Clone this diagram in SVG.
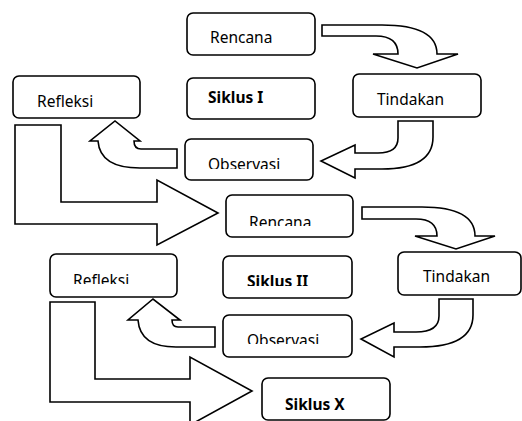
<svg xmlns="http://www.w3.org/2000/svg" width="522" height="421" viewBox="0 0 522 421">
<style>
.box{fill:#fff;stroke:#000;stroke-width:1.6}
.arr{fill:#fff;stroke:#000;stroke-width:1.6;stroke-linejoin:miter}
text{font-family:"Noto Sans","Open Sans","Liberation Sans",sans-serif;font-size:15.5px;fill:#000}
.b{font-weight:bold}
</style>
<defs>
<clipPath id="c1"><rect x="185" y="139" width="128" height="30"/></clipPath>
<clipPath id="c2"><rect x="226" y="195" width="127" height="31"/></clipPath>
<clipPath id="c3"><rect x="223" y="256" width="129" height="30"/></clipPath>
<clipPath id="c4"><rect x="50" y="254" width="127" height="30"/></clipPath>
<clipPath id="c5"><rect x="223" y="315" width="129" height="29"/></clipPath>
<clipPath id="c6"><rect x="262" y="378" width="128" height="32"/></clipPath>
</defs>
<g id="connectors">
<path class="arr" d="M322,25 L382,25 Q437,25 437,54 L458,54 L417,68 L373,54 L398,54 Q398,36 376,36 L322,36 Z"/>
<path class="arr" d="M398,121 L433,121 L433,137 Q433,169 382,169 L355,169 L355,178 L321,161 L355,145 L355,153 L378,153 Q398,153 398,138 Z"/>
<path class="arr" d="M177,149 L141,149 Q134,149 134,141 L140,141 L115,121 L90,141 L98,141 Q100,168 140,168 L177,168 Z"/>
<path class="arr" d="M15,125 L61,125 L61,202 L157,202 L157,180 L218,213 L157,245 L157,224 L15,224 Z"/>
<path class="arr" d="M362,207 L422,207 Q475,207 475,236 L495,236 L456,249 L415,236 L437,236 Q437,219 416,219 L362,219 Z"/>
<path class="arr" d="M439,299 L473,299 L473,315 Q473,347 420,347 L394,347 L394,357 L361,339 L394,323 L394,332 L416,332 Q439,332 439,316 Z"/>
<path class="arr" d="M215,327 L178,327 Q172,327 172,320 L180,320 L153,299 L128,320 L138,320 Q140,347 176,347 L215,347 Z"/>
<path class="arr" d="M50,302 L95,302 L95,379 L190,379 L190,357 L252,391 L190,425 L190,402 L50,402 Z"/>
</g>
<g id="rencana1"><rect class="box" x="187" y="13" width="128" height="42" rx="6"/><text x="210" y="43">Rencana</text></g>
<g id="siklus1"><rect class="box" x="187" y="78" width="128" height="41" rx="6"/><text class="b" x="208" y="103">Siklus I</text></g>
<g id="tindakan1"><rect class="box" x="353" y="74" width="128" height="43" rx="6"/><text x="377" y="105">Tindakan</text></g>
<g id="refleksi1"><rect class="box" x="13" y="76" width="127" height="42" rx="6"/><text x="37" y="107">Refleksi</text></g>
<g id="observasi1"><rect class="box" x="185" y="139" width="128" height="41" rx="6"/><text x="208" y="170" clip-path="url(#c1)">Observasi</text></g>
<g id="rencana2"><rect class="box" x="226" y="195" width="127" height="42" rx="6"/><text x="249" y="228" clip-path="url(#c2)">Rencana</text></g>
<g id="siklus2"><rect class="box" x="223" y="256" width="129" height="42" rx="6"/><text class="b" x="247" y="287" clip-path="url(#c3)">Siklus II</text></g>
<g id="tindakan2"><rect class="box" x="398" y="252" width="123" height="43" rx="6"/><text x="423" y="282">Tindakan</text></g>
<g id="refleksi2"><rect class="box" x="50" y="254" width="127" height="43" rx="6"/><text x="73" y="286" clip-path="url(#c4)">Refleksi</text></g>
<g id="observasi2"><rect class="box" x="223" y="315" width="129" height="42" rx="6"/><text x="247" y="346" clip-path="url(#c5)">Observasi</text></g>
<g id="siklusX"><rect class="box" x="262" y="378" width="128" height="42" rx="6"/><text class="b" x="285" y="410" clip-path="url(#c6)">Siklus X</text></g>
</svg>
